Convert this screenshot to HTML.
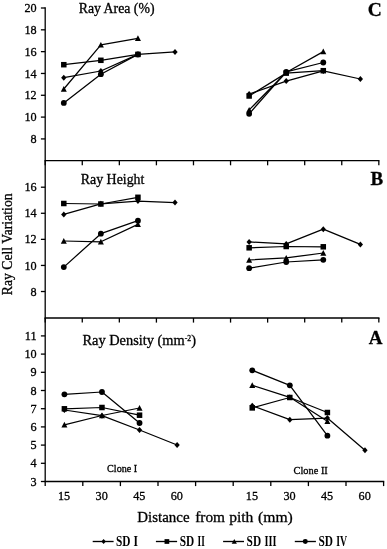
<!DOCTYPE html>
<html><head><meta charset="utf-8"><title>Ray Cell Variation</title>
<style>html,body{margin:0;padding:0;background:#fff}svg{display:block;will-change:transform}</style></head>
<body>
<svg width="387" height="549" viewBox="0 0 387 549">
<rect width="387" height="549" fill="#fff"/>
<g stroke="#000" stroke-width="1.3" fill="none" stroke-linecap="butt">
<line x1="45.2" y1="7.3" x2="45.2" y2="481.5"/>
<line x1="40.9" y1="8.00" x2="45.2" y2="8.00"/>
<line x1="40.9" y1="29.82" x2="45.2" y2="29.82"/>
<line x1="40.9" y1="51.64" x2="45.2" y2="51.64"/>
<line x1="40.9" y1="73.46" x2="45.2" y2="73.46"/>
<line x1="40.9" y1="95.28" x2="45.2" y2="95.28"/>
<line x1="40.9" y1="117.10" x2="45.2" y2="117.10"/>
<line x1="40.9" y1="138.92" x2="45.2" y2="138.92"/>
<line x1="40.9" y1="187.20" x2="45.2" y2="187.20"/>
<line x1="40.9" y1="213.28" x2="45.2" y2="213.28"/>
<line x1="40.9" y1="239.36" x2="45.2" y2="239.36"/>
<line x1="40.9" y1="265.44" x2="45.2" y2="265.44"/>
<line x1="40.9" y1="291.52" x2="45.2" y2="291.52"/>
<line x1="40.9" y1="335.90" x2="45.2" y2="335.90"/>
<line x1="40.9" y1="354.10" x2="45.2" y2="354.10"/>
<line x1="40.9" y1="372.30" x2="45.2" y2="372.30"/>
<line x1="40.9" y1="390.50" x2="45.2" y2="390.50"/>
<line x1="40.9" y1="408.70" x2="45.2" y2="408.70"/>
<line x1="40.9" y1="426.90" x2="45.2" y2="426.90"/>
<line x1="40.9" y1="445.10" x2="45.2" y2="445.10"/>
<line x1="40.9" y1="463.30" x2="45.2" y2="463.30"/>
<line x1="40.9" y1="481.50" x2="45.2" y2="481.50"/>
<line x1="44.550000000000004" y1="160.7" x2="379.48" y2="160.7"/>
<line x1="45.20" y1="160.7" x2="45.20" y2="165.29999999999998"/>
<line x1="82.27" y1="160.7" x2="82.27" y2="165.29999999999998"/>
<line x1="119.34" y1="160.7" x2="119.34" y2="165.29999999999998"/>
<line x1="156.41" y1="160.7" x2="156.41" y2="165.29999999999998"/>
<line x1="193.48" y1="160.7" x2="193.48" y2="165.29999999999998"/>
<line x1="230.55" y1="160.7" x2="230.55" y2="165.29999999999998"/>
<line x1="267.62" y1="160.7" x2="267.62" y2="165.29999999999998"/>
<line x1="304.69" y1="160.7" x2="304.69" y2="165.29999999999998"/>
<line x1="341.76" y1="160.7" x2="341.76" y2="165.29999999999998"/>
<line x1="378.83" y1="160.7" x2="378.83" y2="165.29999999999998"/>
<line x1="44.550000000000004" y1="318.0" x2="379.48" y2="318.0"/>
<line x1="45.20" y1="318.0" x2="45.20" y2="322.6"/>
<line x1="82.27" y1="318.0" x2="82.27" y2="322.6"/>
<line x1="119.34" y1="318.0" x2="119.34" y2="322.6"/>
<line x1="156.41" y1="318.0" x2="156.41" y2="322.6"/>
<line x1="193.48" y1="318.0" x2="193.48" y2="322.6"/>
<line x1="230.55" y1="318.0" x2="230.55" y2="322.6"/>
<line x1="267.62" y1="318.0" x2="267.62" y2="322.6"/>
<line x1="304.69" y1="318.0" x2="304.69" y2="322.6"/>
<line x1="341.76" y1="318.0" x2="341.76" y2="322.6"/>
<line x1="378.83" y1="318.0" x2="378.83" y2="322.6"/>
<line x1="44.550000000000004" y1="481.5" x2="384.25" y2="481.5"/>
<line x1="45.20" y1="481.5" x2="45.20" y2="486.1"/>
<line x1="82.80" y1="481.5" x2="82.80" y2="486.1"/>
<line x1="120.40" y1="481.5" x2="120.40" y2="486.1"/>
<line x1="158.00" y1="481.5" x2="158.00" y2="486.1"/>
<line x1="195.60" y1="481.5" x2="195.60" y2="486.1"/>
<line x1="233.20" y1="481.5" x2="233.20" y2="486.1"/>
<line x1="270.80" y1="481.5" x2="270.80" y2="486.1"/>
<line x1="308.40" y1="481.5" x2="308.40" y2="486.1"/>
<line x1="346.00" y1="481.5" x2="346.00" y2="486.1"/>
<line x1="383.60" y1="481.5" x2="383.60" y2="486.1"/>
</g>
<g stroke="#000" stroke-width="1.25" fill="none" stroke-linejoin="round">
<polyline points="63.80,77.70 100.87,71.00 137.94,54.40 175.01,51.90"/>
<polyline points="63.80,64.70 100.87,60.30 137.94,54.40"/>
<polyline points="63.80,89.00 100.87,44.90 137.94,38.30"/>
<polyline points="63.80,102.90 100.87,74.20 137.94,54.40"/>
<polyline points="249.15,94.00 286.22,81.10 323.29,70.90 360.36,79.00"/>
<polyline points="249.15,96.00 286.22,73.10 323.29,70.70"/>
<polyline points="249.15,109.90 286.22,72.50 323.29,51.60"/>
<polyline points="249.15,113.80 286.22,71.90 323.29,62.50"/>
<polyline points="63.80,214.40 100.87,203.80 137.94,201.10 175.01,202.60"/>
<polyline points="63.80,203.50 100.87,204.00 137.94,197.30"/>
<polyline points="63.80,241.00 100.87,241.80 137.94,224.40"/>
<polyline points="63.80,267.10 100.87,233.70 137.94,220.70"/>
<polyline points="249.15,241.90 286.22,243.90 323.29,229.20 360.36,244.40"/>
<polyline points="249.15,247.80 286.22,246.50 323.29,246.80"/>
<polyline points="249.15,260.00 286.22,257.90 323.29,253.00"/>
<polyline points="249.15,268.20 286.22,262.00 323.29,259.80"/>
<polyline points="64.40,410.00 101.97,415.70 139.54,430.00 177.11,445.00"/>
<polyline points="64.40,408.80 101.97,407.50 139.54,415.20"/>
<polyline points="64.40,424.80 101.97,415.50 139.54,408.00"/>
<polyline points="64.40,394.30 101.97,392.00 139.54,423.00"/>
<polyline points="252.25,405.70 289.82,419.70 327.39,418.10 364.96,450.20"/>
<polyline points="252.25,407.90 289.82,397.50 327.39,412.50"/>
<polyline points="252.25,385.30 289.82,397.30 327.39,421.30"/>
<polyline points="252.25,370.30 289.82,385.30 327.39,435.70"/>
</g>
<g fill="#000">
<polygon points="63.80,74.70 66.45,77.70 63.80,80.70 61.15,77.70"/>
<polygon points="100.87,68.00 103.52,71.00 100.87,74.00 98.22,71.00"/>
<polygon points="137.94,51.40 140.59,54.40 137.94,57.40 135.29,54.40"/>
<polygon points="175.01,48.90 177.66,51.90 175.01,54.90 172.36,51.90"/>
<rect x="61.05" y="61.95" width="5.50" height="5.50"/>
<rect x="98.12" y="57.55" width="5.50" height="5.50"/>
<rect x="135.19" y="51.65" width="5.50" height="5.50"/>
<polygon points="63.80,86.00 66.80,91.70 60.80,91.70"/>
<polygon points="100.87,41.90 103.87,47.60 97.87,47.60"/>
<polygon points="137.94,35.30 140.94,41.00 134.94,41.00"/>
<circle cx="63.80" cy="102.90" r="2.90"/>
<circle cx="100.87" cy="74.20" r="2.90"/>
<circle cx="137.94" cy="54.40" r="2.90"/>
<polygon points="249.15,91.00 251.80,94.00 249.15,97.00 246.50,94.00"/>
<polygon points="286.22,78.10 288.87,81.10 286.22,84.10 283.57,81.10"/>
<polygon points="323.29,67.90 325.94,70.90 323.29,73.90 320.64,70.90"/>
<polygon points="360.36,76.00 363.01,79.00 360.36,82.00 357.71,79.00"/>
<rect x="246.40" y="93.25" width="5.50" height="5.50"/>
<rect x="283.47" y="70.35" width="5.50" height="5.50"/>
<rect x="320.54" y="67.95" width="5.50" height="5.50"/>
<polygon points="249.15,106.90 252.15,112.60 246.15,112.60"/>
<polygon points="286.22,69.50 289.22,75.20 283.22,75.20"/>
<polygon points="323.29,48.60 326.29,54.30 320.29,54.30"/>
<circle cx="249.15" cy="113.80" r="2.90"/>
<circle cx="286.22" cy="71.90" r="2.90"/>
<circle cx="323.29" cy="62.50" r="2.90"/>
<polygon points="63.80,211.40 66.45,214.40 63.80,217.40 61.15,214.40"/>
<polygon points="100.87,200.80 103.52,203.80 100.87,206.80 98.22,203.80"/>
<polygon points="137.94,198.10 140.59,201.10 137.94,204.10 135.29,201.10"/>
<polygon points="175.01,199.60 177.66,202.60 175.01,205.60 172.36,202.60"/>
<rect x="61.05" y="200.75" width="5.50" height="5.50"/>
<rect x="98.12" y="201.25" width="5.50" height="5.50"/>
<rect x="135.19" y="194.55" width="5.50" height="5.50"/>
<polygon points="63.80,238.00 66.80,243.70 60.80,243.70"/>
<polygon points="100.87,238.80 103.87,244.50 97.87,244.50"/>
<polygon points="137.94,221.40 140.94,227.10 134.94,227.10"/>
<circle cx="63.80" cy="267.10" r="2.90"/>
<circle cx="100.87" cy="233.70" r="2.90"/>
<circle cx="137.94" cy="220.70" r="2.90"/>
<polygon points="249.15,238.90 251.80,241.90 249.15,244.90 246.50,241.90"/>
<polygon points="286.22,240.90 288.87,243.90 286.22,246.90 283.57,243.90"/>
<polygon points="323.29,226.20 325.94,229.20 323.29,232.20 320.64,229.20"/>
<polygon points="360.36,241.40 363.01,244.40 360.36,247.40 357.71,244.40"/>
<rect x="246.40" y="245.05" width="5.50" height="5.50"/>
<rect x="283.47" y="243.75" width="5.50" height="5.50"/>
<rect x="320.54" y="244.05" width="5.50" height="5.50"/>
<polygon points="249.15,257.00 252.15,262.70 246.15,262.70"/>
<polygon points="286.22,254.90 289.22,260.60 283.22,260.60"/>
<polygon points="323.29,250.00 326.29,255.70 320.29,255.70"/>
<circle cx="249.15" cy="268.20" r="2.90"/>
<circle cx="286.22" cy="262.00" r="2.90"/>
<circle cx="323.29" cy="259.80" r="2.90"/>
<polygon points="64.40,407.00 67.05,410.00 64.40,413.00 61.75,410.00"/>
<polygon points="101.97,412.70 104.62,415.70 101.97,418.70 99.32,415.70"/>
<polygon points="139.54,427.00 142.19,430.00 139.54,433.00 136.89,430.00"/>
<polygon points="177.11,442.00 179.76,445.00 177.11,448.00 174.46,445.00"/>
<rect x="61.65" y="406.05" width="5.50" height="5.50"/>
<rect x="99.22" y="404.75" width="5.50" height="5.50"/>
<rect x="136.79" y="412.45" width="5.50" height="5.50"/>
<polygon points="64.40,421.80 67.40,427.50 61.40,427.50"/>
<polygon points="101.97,412.50 104.97,418.20 98.97,418.20"/>
<polygon points="139.54,405.00 142.54,410.70 136.54,410.70"/>
<circle cx="64.40" cy="394.30" r="2.90"/>
<circle cx="101.97" cy="392.00" r="2.90"/>
<circle cx="139.54" cy="423.00" r="2.90"/>
<polygon points="252.25,402.70 254.90,405.70 252.25,408.70 249.60,405.70"/>
<polygon points="289.82,416.70 292.47,419.70 289.82,422.70 287.17,419.70"/>
<polygon points="327.39,415.10 330.04,418.10 327.39,421.10 324.74,418.10"/>
<polygon points="364.96,447.20 367.61,450.20 364.96,453.20 362.31,450.20"/>
<rect x="249.50" y="405.15" width="5.50" height="5.50"/>
<rect x="287.07" y="394.75" width="5.50" height="5.50"/>
<rect x="324.64" y="409.75" width="5.50" height="5.50"/>
<polygon points="252.25,382.30 255.25,388.00 249.25,388.00"/>
<polygon points="289.82,394.30 292.82,400.00 286.82,400.00"/>
<polygon points="327.39,418.30 330.39,424.00 324.39,424.00"/>
<circle cx="252.25" cy="370.30" r="2.90"/>
<circle cx="289.82" cy="385.30" r="2.90"/>
<circle cx="327.39" cy="435.70" r="2.90"/>
</g>
<g font-family="'Liberation Serif', serif" fill="#000" stroke="#000" stroke-width="0.3">
<text x="36.6" y="12.10" font-size="12.2" text-anchor="end">20</text>
<text x="36.6" y="33.92" font-size="12.2" text-anchor="end">18</text>
<text x="36.6" y="55.74" font-size="12.2" text-anchor="end">16</text>
<text x="36.6" y="77.56" font-size="12.2" text-anchor="end">14</text>
<text x="36.6" y="99.38" font-size="12.2" text-anchor="end">12</text>
<text x="36.6" y="121.20" font-size="12.2" text-anchor="end">10</text>
<text x="36.6" y="143.02" font-size="12.2" text-anchor="end">8</text>
<text x="36.6" y="191.30" font-size="12.2" text-anchor="end">16</text>
<text x="36.6" y="217.38" font-size="12.2" text-anchor="end">14</text>
<text x="36.6" y="243.46" font-size="12.2" text-anchor="end">12</text>
<text x="36.6" y="269.54" font-size="12.2" text-anchor="end">10</text>
<text x="36.6" y="295.62" font-size="12.2" text-anchor="end">8</text>
<text x="36.6" y="340.00" font-size="12.2" text-anchor="end">11</text>
<text x="36.6" y="358.20" font-size="12.2" text-anchor="end">10</text>
<text x="36.6" y="376.40" font-size="12.2" text-anchor="end">9</text>
<text x="36.6" y="394.60" font-size="12.2" text-anchor="end">8</text>
<text x="36.6" y="412.80" font-size="12.2" text-anchor="end">7</text>
<text x="36.6" y="431.00" font-size="12.2" text-anchor="end">6</text>
<text x="36.6" y="449.20" font-size="12.2" text-anchor="end">5</text>
<text x="36.6" y="467.40" font-size="12.2" text-anchor="end">4</text>
<text x="36.6" y="485.60" font-size="12.2" text-anchor="end">3</text>
<text x="64.10" y="499.6" font-size="12.2" text-anchor="middle">15</text>
<text x="101.67" y="499.6" font-size="12.2" text-anchor="middle">30</text>
<text x="139.24" y="499.6" font-size="12.2" text-anchor="middle">45</text>
<text x="176.81" y="499.6" font-size="12.2" text-anchor="middle">60</text>
<text x="251.95" y="499.6" font-size="12.2" text-anchor="middle">15</text>
<text x="289.52" y="499.6" font-size="12.2" text-anchor="middle">30</text>
<text x="327.09" y="499.6" font-size="12.2" text-anchor="middle">45</text>
<text x="364.66" y="499.6" font-size="12.2" text-anchor="middle">60</text>
<text x="78.7" y="12.5" font-size="14" textLength="75.8" lengthAdjust="spacingAndGlyphs">Ray Area (%)</text>
<text x="80.8" y="183.6" font-size="14" textLength="63.6" lengthAdjust="spacingAndGlyphs">Ray Height</text>
<text x="82.4" y="345.2" font-size="14" textLength="113.6" lengthAdjust="spacingAndGlyphs">Ray Density (mm<tspan font-size="7.5" dy="-4.5">-2</tspan><tspan dy="4.5">)</tspan></text>
<text x="107.1" y="471.7" font-size="10.4" textLength="30.1" lengthAdjust="spacingAndGlyphs">Clone I</text>
<text x="293.6" y="473.6" font-size="10.4" textLength="34.2" lengthAdjust="spacingAndGlyphs">Clone II</text>
<text x="137.3" y="522" font-size="15.4" textLength="52.3" lengthAdjust="spacingAndGlyphs">Distance</text>
<text x="195.2" y="522" font-size="15.4" textLength="29.8" lengthAdjust="spacingAndGlyphs">from</text>
<text x="229.2" y="522" font-size="15.4" textLength="24.2" lengthAdjust="spacingAndGlyphs">pith</text>
<text x="258.0" y="522" font-size="15.4" textLength="34.8" lengthAdjust="spacingAndGlyphs">(mm)</text>
<text transform="translate(11.6,295.2) rotate(-90)" font-size="14" textLength="101.8" lengthAdjust="spacingAndGlyphs">Ray Cell Variation</text>
<g font-weight="bold" font-size="19">
<text x="367.8" y="16.0" font-size="19.5">C</text>
<text x="370.6" y="184.5">B</text>
<text x="368.8" y="343.8">A</text>
</g>
<g font-weight="bold" font-size="13.6" stroke="none">
<text y="545.8"><tspan x="115.9" textLength="14.5" lengthAdjust="spacingAndGlyphs">SD</tspan> <tspan x="133.6" textLength="4.5" lengthAdjust="spacingAndGlyphs">I</tspan></text>
<text y="545.8"><tspan x="179.7" textLength="14.5" lengthAdjust="spacingAndGlyphs">SD</tspan> <tspan x="197.6" textLength="7.2" lengthAdjust="spacingAndGlyphs">II</tspan></text>
<text y="545.8"><tspan x="246.6" textLength="14.5" lengthAdjust="spacingAndGlyphs">SD</tspan> <tspan x="264.5" textLength="12.1" lengthAdjust="spacingAndGlyphs">III</tspan></text>
<text y="545.8"><tspan x="318.4" textLength="14.5" lengthAdjust="spacingAndGlyphs">SD</tspan> <tspan x="336.2" textLength="10.9" lengthAdjust="spacingAndGlyphs">IV</tspan></text>
</g></g>
<g stroke="#000" stroke-width="1.35">
<line x1="92.7" y1="541.5" x2="113.6" y2="541.5"/>
<line x1="155.9" y1="541.5" x2="177.1" y2="541.5"/>
<line x1="223.1" y1="541.5" x2="244.0" y2="541.5"/>
<line x1="294.8" y1="541.5" x2="315.9" y2="541.5"/>
</g><g fill="#000">
<polygon points="103.60,538.92 105.88,541.50 103.60,544.08 101.32,541.50"/>
<rect x="164.53" y="539.13" width="4.73" height="4.73"/>
<polygon points="234.30,538.92 236.88,543.78 231.72,543.78"/>
<circle cx="305.30" cy="541.50" r="2.49"/>
</g>
</svg>
</body></html>
